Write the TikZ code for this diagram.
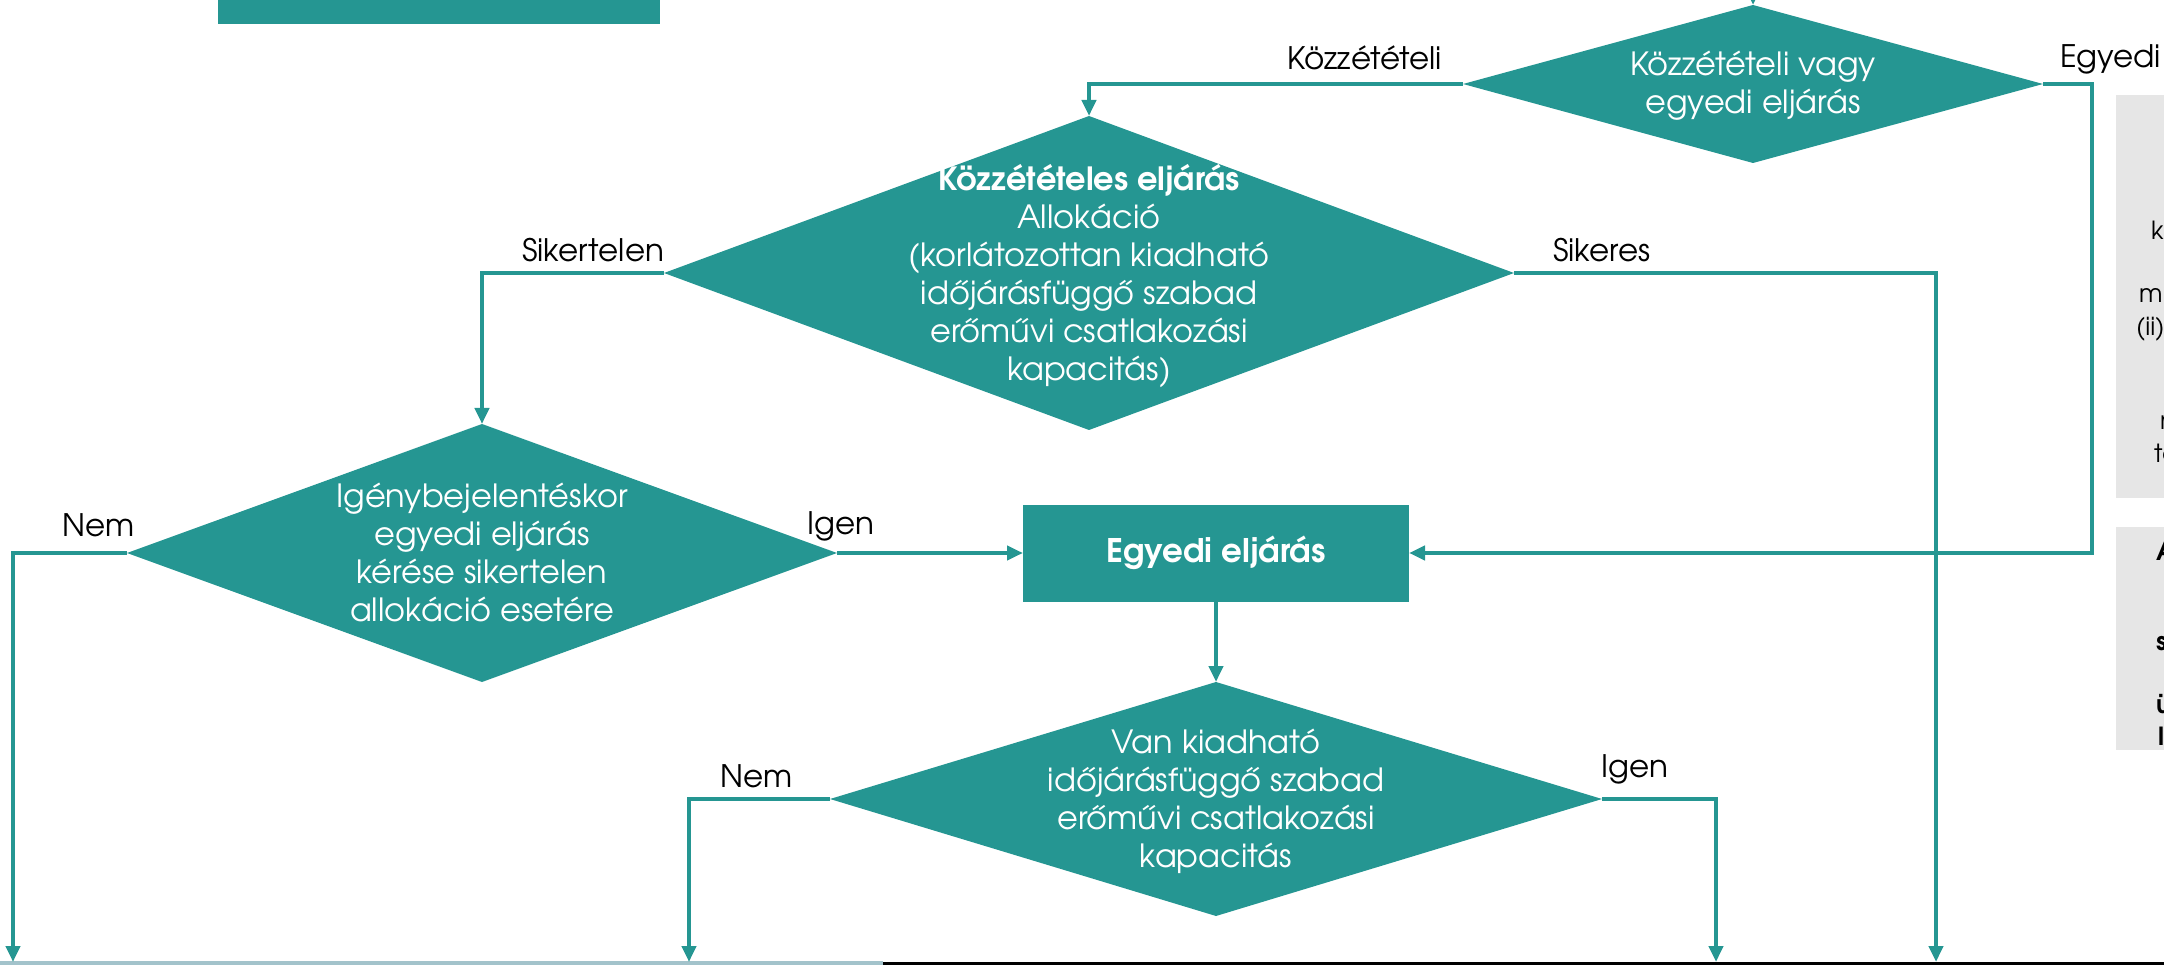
\documentclass[tikz,border=0pt]{standalone}
\usepackage{fontspec}
\setmainfont{texgyreadventor}[Extension=.otf,UprightFont=*-regular,BoldFont=*-bold]
\usetikzlibrary{shapes.geometric,arrows.meta}
\definecolor{tl}{HTML}{259692}
\definecolor{lgray}{HTML}{E6E6E6}
\definecolor{lblue}{HTML}{A3C3CB}
\tikzset{
  dec/.style={diamond,fill=tl,draw=none,inner sep=0,outer sep=0},
  conn/.style={draw=tl,line width=4pt,-{Triangle[length=16pt,width=14pt]}},
  wt/.style={text=white,align=center,inner sep=0,font=\fontsize{#1}{38}\selectfont},
  wt/.default=32,
  lbl/.style={inner sep=0,font=\fontsize{31}{38}\selectfont},
  frag/.style={inner sep=0,anchor=base west,font=\fontsize{25}{31}\selectfont}
}
\begin{document}
\begin{tikzpicture}[x=1pt,y=-1pt]
\useasboundingbox (0,0) rectangle (2164,965);
\begin{scope}
\clip (0,0) rectangle (2164,965);
\fill[tl] (218,-5) rectangle (660,24);
\fill[lgray] (2116,95) rectangle (2170,498);
\fill[lgray] (2116,527) rectangle (2170,750);
\fill[lblue] (0,961) rectangle (883,966);
\fill[black] (883,962) rectangle (2170,966);

\node[dec,minimum width=580,minimum height=158] (dA) at (1753,84) {};
\node[dec,minimum width=850,minimum height=314] (dB) at (1089,273) {};
\node[dec,minimum width=710,minimum height=258] (dC) at (482,553) {};
\node[dec,minimum width=772,minimum height=234] (dD) at (1216,799) {};
\node[fill=tl,minimum width=386,minimum height=97,inner sep=0,outer sep=0] (bE) at (1216,553) {};

\node[wt] (tA) at (1753,86) {Közzétételi vagy\\egyedi eljárás};
\node[wt] (tB) at (1089,276) {\textbf{Közzétételes eljárás}\\Allokáció\\(korlátozottan kiadható\\időjárásfüggő szabad\\erőművi csatlakozási\\kapacitás)};
\node[wt] (tC) at (482,552) {Igénybejelentéskor\\egyedi eljárás\\kérése sikertelen\\allokáció esetére};
\node[wt] (tD) at (1216,801) {Van kiadható\\időjárásfüggő szabad\\erőművi csatlakozási\\kapacitás};
\node[wt=32.5] (tE) at (1216,553) {\textbf{Egyedi eljárás}};

\coordinate (e0) at (1753,-30);
\coordinate (e1) at (13,962);
\coordinate (e2) at (1936,962);
\coordinate (e3) at (689,962);
\coordinate (e4) at (1716,962);

\draw[conn] (e0) -- (dA.north);
\draw[conn] (dA.west) -| (dB.north);
\draw[conn] (dA.east) -- ++(49,0) |- (bE.east);
\draw[conn] (dB.west) -| (dC.north);
\draw[conn] (dB.east) -| (e2);
\draw[conn] (dC.west) -| (e1);
\draw[conn] (dC.east) -- (bE.west);
\draw[conn] (bE.south) -- (dD.north);
\draw[conn] (dD.west) -| (e3);
\draw[conn] (dD.east) -| (e4);

\node[lbl,anchor=base east] (lKoz) at (1442,70) {Közzétételi};
\node[lbl,anchor=base west] (lEgy) at (2060,68) {Egyedi};
\node[lbl,anchor=base west] (lSikt) at (522,262) {Sikertelen};
\node[lbl,anchor=base west] (lSik) at (1553,262) {Sikeres};
\node[lbl,anchor=base west] (lNemC) at (62,536) {Nem};
\node[lbl,anchor=base west] (lIgenC) at (807,534) {Igen};
\node[lbl,anchor=base west] (lNemD) at (720,787) {Nem};
\node[lbl,anchor=base west] (lIgenD) at (1601,777) {Igen};

\node[frag] (f1) at (2151,240) {k};
\node[frag] (f2) at (2139,303) {m};
\node[frag] (f3) at (2136,336) {(ii)};
\node[frag] (f4) at (2160,430) {n};
\node[frag] (f5) at (2154,463) {to};
\node[frag,font=\fontsize{25}{31}\selectfont\bfseries] (f6) at (2156,560) {A};
\node[frag,font=\fontsize{25}{31}\selectfont\bfseries] (f7) at (2156,650) {s};
\node[frag,font=\fontsize{25}{31}\selectfont\bfseries] (f8) at (2156,713) {ü};
\node[frag,font=\fontsize{25}{31}\selectfont\bfseries] (f9) at (2158,745) {l};
\end{scope}
\end{tikzpicture}
\end{document}
